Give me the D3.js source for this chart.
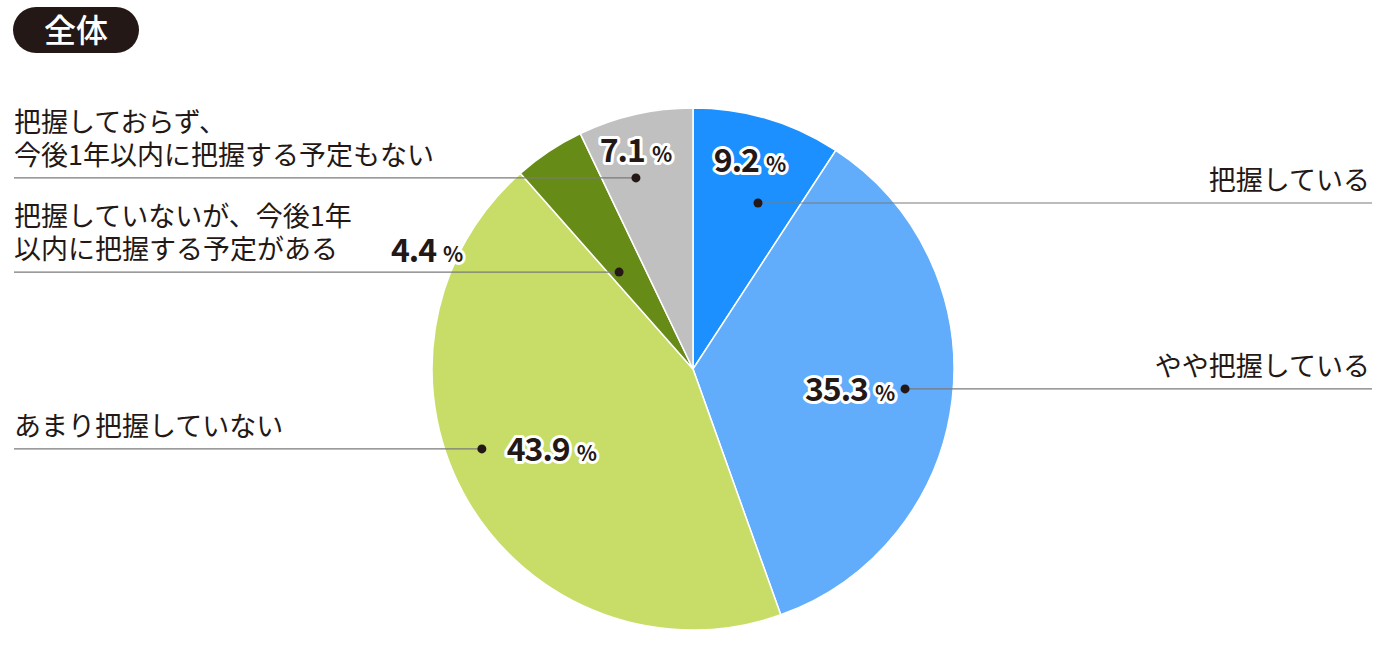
<!DOCTYPE html>
<html><head><meta charset="utf-8">
<script src="https://cdn.jsdelivr.net/npm/d3@7/dist/d3.min.js"></script>
<style>
html,body{margin:0;padding:0;background:#fff;}
svg{display:block;}
text{font-family:"Noto Sans CJK JP","Noto Sans",sans-serif;}
</style></head>
<body>
<svg id="chart" width="1380" height="654"></svg>
<script>
// ---- data ----
const title = "全体";
const categories = ["把握している", "やや把握している", "あまり把握していない",
  "把握していないが、今後1年以内に把握する予定がある",
  "把握しておらず、今後1年以内に把握する予定もない"];
const labelLines = [
  ["把握している"],
  ["やや把握している"],
  ["あまり把握していない"],
  ["把握していないが、今後1年", "以内に把握する予定がある"],
  ["把握しておらず、", "今後1年以内に把握する予定もない"]
];
const values = [9.2, 35.3, 43.9, 4.4, 7.1];
const colors = ["#1b90fe", "#61adfb", "#c8dd68", "#678b17", "#c0c0c0"];

// ---- layout (positions/styles) ----
const cx = 693, cy = 369, R = 261;
const labelSide = ["right", "right", "left", "left", "left"];
// dot placement inside slice: fraction along slice angle, fraction of radius
const dotT = [0.645, 0.489, 0.562, 0.259, 0.35];
const dotR = [0.683, 0.816, 0.865, 0.467, 0.764];
// percent label offset relative to the dot
const pctOff = [[-8, -31], [-55, 12], [70, 12], [-192, -10], [0, -16]];
const leftX = 14, rightX = 1372;
const textColor = "#231815";

const svg = d3.select("#chart");

// title badge
const badge = svg.append("g");
badge.append("rect").attr("x", 13).attr("y", 7).attr("width", 126).attr("height", 46)
  .attr("rx", 23).attr("fill", textColor);
badge.append("text").attr("x", 76).attr("y", 42).attr("text-anchor", "middle")
  .attr("fill", "#fff").attr("font-size", 32).attr("font-weight", 500).text(title);

const pie = d3.pie().sort(null).value(d => d);
const arcs = pie(values);
const arc = d3.arc().innerRadius(0).outerRadius(R);

const g = svg.append("g").attr("transform", `translate(${cx},${cy})`);
g.selectAll("path.slice").data(arcs).join("path")
  .attr("class", "slice")
  .attr("d", arc)
  .attr("fill", (d, i) => colors[i])
  .attr("stroke", "#fff").attr("stroke-width", 1.5);

// dots
const dots = arcs.map((d, i) => {
  const a = d.startAngle + dotT[i] * (d.endAngle - d.startAngle);
  const r = R * dotR[i];
  return [cx + r * Math.sin(a), cy - r * Math.cos(a)];
});

// leader lines
svg.selectAll("line.leader").data(dots).join("line")
  .attr("class", "leader")
  .attr("x1", (d, i) => labelSide[i] === "left" ? leftX : d[0])
  .attr("x2", (d, i) => labelSide[i] === "left" ? d[0] : rightX)
  .attr("y1", d => d[1]).attr("y2", d => d[1])
  .attr("stroke", "#7a7a7a").attr("stroke-width", 1.2);

svg.selectAll("circle.dot").data(dots).join("circle")
  .attr("class", "dot")
  .attr("cx", d => d[0]).attr("cy", d => d[1]).attr("r", 4.5)
  .attr("fill", textColor);

// category labels
dots.forEach((d, i) => {
  const lines = labelLines[i];
  const left = labelSide[i] === "left";
  const t = svg.append("text")
    .attr("font-size", 27).attr("fill", textColor)
    .attr("text-anchor", left ? "start" : "end");
  lines.forEach((ln, k) => {
    t.append("tspan")
      .attr("x", left ? leftX : rightX - 2)
      .attr("y", d[1] - 13 - (lines.length - 1 - k) * 33)
      .text(ln);
  });
});

// percent labels
dots.forEach((d, i) => {
  const x = d[0] + pctOff[i][0], y = d[1] + pctOff[i][1];
  const make = (halo) => {
    const t = svg.append("text")
      .attr("x", x).attr("y", y).attr("text-anchor", "middle")
      .attr("font-weight", 700).attr("fill", halo ? "#fff" : textColor);
    if (halo) t.attr("stroke", "#fff").attr("stroke-width", 6).attr("stroke-linejoin", "round");
    t.append("tspan").attr("font-size", 32).attr("letter-spacing", -1).text(values[i].toFixed(1));
    t.append("tspan").attr("font-size", 21).attr("dx", 7).text("%");
  };
  make(true); make(false);
});
</script>
</body></html>
